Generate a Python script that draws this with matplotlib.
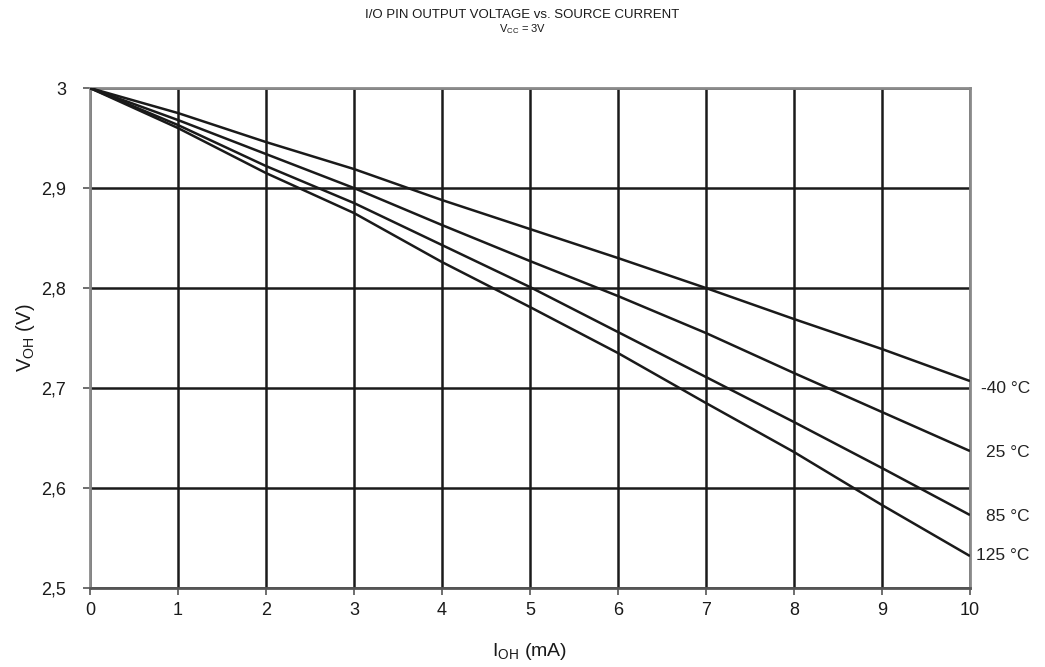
import matplotlib
matplotlib.use("Agg")
import matplotlib.pyplot as plt

plt.rcParams['font.family'] = ['Liberation Sans', 'DejaVu Sans']

current_mA = [0, 1, 2, 3, 4, 5, 6, 7, 8, 9, 10]
v_m40 = [3.000, 2.975, 2.946, 2.919, 2.888, 2.859, 2.830, 2.800, 2.769, 2.739, 2.707]
v_25 = [3.000, 2.968, 2.934, 2.900, 2.863, 2.827, 2.792, 2.755, 2.715, 2.676, 2.637]
v_85 = [3.000, 2.963, 2.922, 2.885, 2.843, 2.801, 2.756, 2.711, 2.666, 2.620, 2.573]
v_125 = [3.000, 2.960, 2.915, 2.875, 2.826, 2.781, 2.735, 2.685, 2.636, 2.583, 2.532]
series = [v_m40, v_25, v_85, v_125]
labels = ["-40 °C", "25 °C", "85 °C", "125 °C"]
label_y = [2.7, 2.636, 2.572, 2.533]

x_ticks = [0, 1, 2, 3, 4, 5, 6, 7, 8, 9, 10]
y_ticks = [2.5, 2.6, 2.7, 2.8, 2.9, 3.0]
y_ticklabels = ["2,5", "2,6", "2,7", "2,8", "2,9", "3"]

fig = plt.figure(figsize=(10.45, 6.67), dpi=100)
ax = fig.add_axes([0.0861, 0.1184, 0.8421, 0.7496])

for v in series:
    ax.plot(current_mA, v, color="#1a1a1a", lw=1.8, zorder=3, solid_capstyle="butt")

ax.set_xlim(0, 10)
ax.set_ylim(2.5, 3.0)
ax.set_xticks(x_ticks)
ax.set_yticks(y_ticks)
ax.set_xticklabels([str(t) for t in x_ticks])
ax.set_yticklabels(y_ticklabels)
ax.grid(True, color="#1a1a1a", lw=1.8, zorder=1)
ax.set_axisbelow(True)

for s in ["top", "right", "left"]:
    ax.spines[s].set_color("#8a8a8a")
    ax.spines[s].set_linewidth(2)
ax.spines["bottom"].set_color("#555555")
ax.spines["bottom"].set_linewidth(2)

ax.tick_params(axis="both", direction="out", length=5, width=1.2, color="#555555",
               labelsize=13, labelcolor="#1a1a1a", pad=5)
ax.tick_params(axis="y", pad=12)

for lab, yy in zip(labels, label_y):
    ax.text(1.068, yy, lab, transform=ax.get_yaxis_transform(), ha="right", va="center",
            fontsize=12.5, color="#222222")

ax.set_xlabel("I$_{\\mathregular{OH}}$ (mA)", fontsize=14, color="#1a1a1a", labelpad=16)
ax.set_ylabel("V$_{\\mathregular{OH}}$ (V)", fontsize=14.5, color="#1a1a1a", labelpad=3)

fig.text(0.5, 0.978, "I/O PIN OUTPUT VOLTAGE vs. SOURCE CURRENT", ha="center", va="center",
         fontsize=9.5, color="#1a1a1a")
fig.text(0.5, 0.956, "V$_{\\mathregular{CC}}$ = 3V", ha="center", va="center",
         fontsize=8, color="#1a1a1a")

fig.savefig("out.png", dpi=100)
